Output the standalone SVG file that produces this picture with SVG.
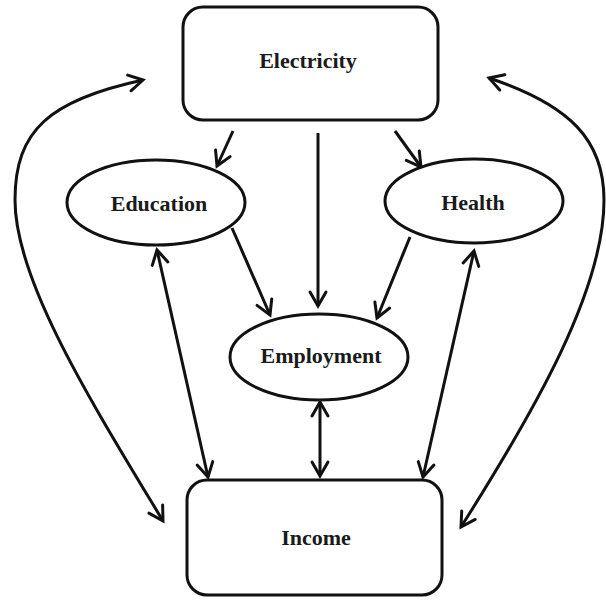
<svg xmlns="http://www.w3.org/2000/svg" width="606" height="600" viewBox="0 0 606 600">
  <style>
    .box { fill: #fff; stroke: #111; stroke-width: 3; }
    .label { font-family: "Liberation Serif", "Times New Roman", serif; font-weight: bold; font-size: 22px; fill: #1a1a1a; text-anchor: middle; }
    .link { fill: none; stroke: #111; stroke-width: 3; }
    .one { marker-end: url(#head); }
    .two { marker-start: url(#head); marker-end: url(#head); }
  </style>
  <defs>
    <marker id="head" markerUnits="userSpaceOnUse" viewBox="-18 -12 22 24" refX="0" refY="0" markerWidth="22" markerHeight="24" orient="auto-start-reverse" overflow="visible">
      <path d="M -14,-8 L 0,0 L -14,8" fill="none" stroke="#111" stroke-width="3" stroke-linejoin="miter" stroke-linecap="round"/>
    </marker>
  </defs>
  <rect width="606" height="600" fill="#fff"/>

  <g id="connectors">
    <!-- Electricity to the three intermediate nodes -->
    <path class="link one" d="M 233,131 L 217,166"/>
    <path class="link one" d="M 318,133 L 318,306"/>
    <path class="link one" d="M 395,131 L 421,167"/>
    <!-- Education / Health to Employment -->
    <path class="link one" d="M 232,228 L 270,315"/>
    <path class="link one" d="M 410,237 L 377,318"/>
    <!-- Two-way links with Income -->
    <path class="link two" d="M 157,250 L 208,477"/>
    <path class="link two" d="M 474,251 L 423,477"/>
    <path class="link two" d="M 320,402 L 320,476"/>
    <!-- Outer feedback loops between Income and Electricity -->
    <path class="link two" d="M 163,521 C 90,400 15,280 15,200 C 15,130 50,100 143,80"/>
    <path class="link two" d="M 461,527 C 535,410 604,290 604,200 C 604,140 570,105 489,78"/>
  </g>

  <g id="electricity">
    <rect class="box" x="183" y="7" width="255" height="113" rx="20" ry="20"/>
    <text class="label" x="308" y="68">Electricity</text>
  </g>
  <g id="education">
    <ellipse class="box" cx="156" cy="202.5" rx="89" ry="42.5"/>
    <text class="label" x="159" y="211">Education</text>
  </g>
  <g id="health">
    <ellipse class="box" cx="474" cy="201" rx="89" ry="42"/>
    <text class="label" x="473" y="210">Health</text>
  </g>
  <g id="employment">
    <ellipse class="box" cx="319" cy="357" rx="89" ry="43"/>
    <text class="label" x="321" y="363">Employment</text>
  </g>
  <g id="income">
    <rect class="box" x="187" y="480" width="255" height="115" rx="20" ry="20"/>
    <text class="label" x="316" y="545">Income</text>
  </g>
</svg>
